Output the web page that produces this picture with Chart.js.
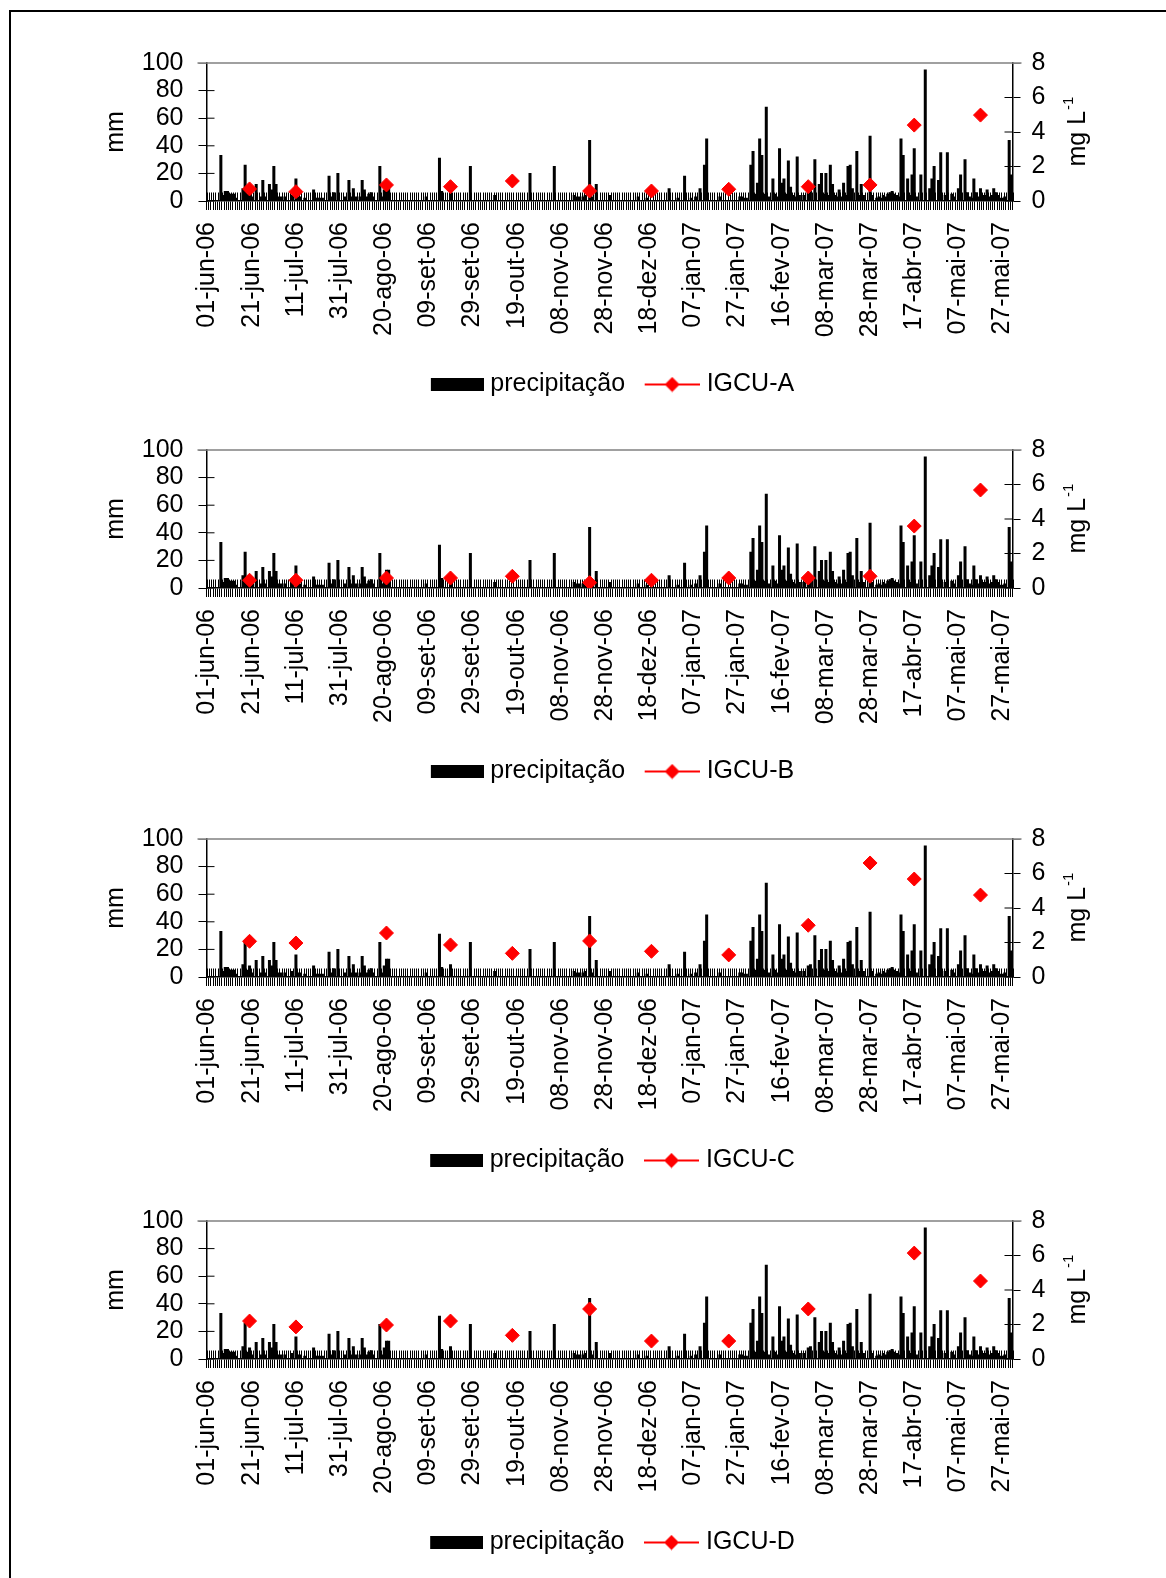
<!DOCTYPE html>
<html>
<head>
<meta charset="utf-8">
<script src="https://cdn.jsdelivr.net/npm/chart.js@4/dist/chart.umd.min.js"></script>
<style>
  html, body { margin: 0; padding: 0; background: #fff; overflow: hidden; }
  body { width: 1166px; height: 1578px; position: relative; }
  .frame { position: absolute; left: 9px; top: 10px; width: 1300px; height: 1700px; border: 2px solid #000; }
  canvas { position: absolute; left: 0; }
</style>
</head>
<body>
<div class="frame"></div>
<canvas id="cA" width="1166" height="400" style="top:13px"></canvas>
<canvas id="cB" width="1166" height="400" style="top:400px"></canvas>
<canvas id="cC" width="1166" height="400" style="top:789px"></canvas>
<canvas id="cD" width="1166" height="400" style="top:1171px"></canvas>
<script>
// daily rainfall (mm), 01-jun-06 .. 31-mai-07, 20 days per row
const precipitation = [
  0, 0, 0, 0, 0, 0, 33, 4, 7, 7, 5, 5, 5, 2, 0, 0, 9, 26, 5, 8,
  3, 0, 12, 0, 3, 15, 3, 0, 12, 8, 25, 12, 3, 3, 0, 3, 0, 0, 4, 0,
  16, 3, 3, 0, 2, 0, 0, 0, 8, 2, 2, 2, 2, 0, 0, 18, 3, 6, 0, 20,
  0, 0, 3, 0, 15, 3, 9, 3, 0, 3, 15, 8, 3, 5, 6, 3, 0, 0, 25, 3,
  8, 13, 13, 0, 0, 0, 0, 0, 0, 0, 0, 0, 0, 0, 0, 0, 0, 0, 0, 3,
  0, 0, 0, 0, 0, 31, 7, 0, 0, 0, 9, 0, 0, 0, 0, 0, 0, 0, 0, 25,
  0, 0, 0, 0, 0, 0, 0, 0, 0, 0, 4, 0, 0, 0, 0, 0, 0, 0, 0, 0,
  0, 0, 0, 0, 0, 0, 20, 0, 0, 0, 0, 0, 0, 0, 0, 0, 0, 25, 0, 0,
  0, 0, 0, 0, 0, 0, 4, 3, 3, 0, 3, 4, 0, 44, 3, 0, 12, 0, 0, 0,
  0, 0, 4, 0, 0, 0, 0, 0, 0, 0, 0, 0, 0, 0, 0, 3, 0, 0, 0, 2,
  0, 0, 0, 0, 0, 0, 0, 0, 0, 9, 0, 0, 0, 2, 0, 0, 18, 0, 0, 2,
  0, 3, 0, 9, 0, 26, 45, 0, 0, 0, 0, 0, 3, 0, 0, 0, 0, 0, 0, 0,
  0, 3, 3, 2, 2, 0, 26, 36, 5, 13, 45, 33, 5, 68, 3, 0, 16, 5, 3, 38,
  13, 16, 5, 29, 10, 4, 3, 32, 4, 0, 4, 0, 8, 9, 0, 30, 0, 12, 20, 5,
  20, 4, 26, 12, 4, 3, 8, 3, 13, 4, 25, 26, 9, 0, 36, 4, 12, 4, 0, 0,
  47, 4, 0, 2, 3, 2, 4, 3, 5, 6, 7, 5, 4, 3, 45, 33, 0, 16, 4, 19,
  38, 3, 0, 19, 0, 95, 0, 9, 16, 25, 0, 15, 35, 0, 4, 35, 0, 5, 3, 0,
  9, 19, 0, 30, 6, 3, 2, 16, 6, 3, 9, 4, 4, 8, 3, 4, 9, 6, 4, 2,
  2, 3, 0, 44, 19
];

// x-axis labels, one every 20 days
const xTickLabels = ['01-jun-06', '21-jun-06', '11-jul-06', '31-jul-06', '20-ago-06',
  '09-set-06', '29-set-06', '19-out-06', '08-nov-06', '28-nov-06', '18-dez-06',
  '07-jan-07', '27-jan-07', '16-fev-07', '08-mar-07', '28-mar-07', '17-abr-07',
  '07-mai-07', '27-mai-07'];

// sampling days (index from 01-jun-06) and IGCU concentrations (mg L-1)
const sampleDays = [19, 40, 81, 110, 138, 173, 201, 236, 272, 300, 320, 350];
const igcuA = [0.70, 0.54, 0.93, 0.83, 1.16, 0.58, 0.58, 0.68, 0.83, 0.93, 4.40, 4.98];
const igcuB = [0.45, 0.45, 0.58, 0.58, 0.68, 0.31, 0.45, 0.58, 0.58, 0.68, 3.59, 5.68];
const igcuC = [2.07, 1.97, 2.55, 1.86, 1.37, 2.09, 1.49, 1.28, 3.00, 6.61, 5.68, 4.75];
const igcuD = [2.20, 1.86, 1.97, 2.20, 1.37, 2.90, 1.04, 1.04, 2.90, null, 6.14, 4.52];

const days = precipitation.map((_, i) => i);

Chart.defaults.font.family = "'Liberation Sans', Arial, sans-serif";
Chart.defaults.font.size = 25;
Chart.defaults.color = '#000';

function makeIcon(w, h, draw) {
  const c = document.createElement('canvas');
  c.width = w; c.height = h;
  draw(c.getContext('2d'), w, h);
  return c;
}
// legend icons, padded on the left so they sit close to their text
const barIcon = makeIcon(67, 13, (g, w, h) => { g.fillStyle = '#000'; g.fillRect(14, 0, 53, h); });
const lineIcon = makeIcon(66, 16, (g, w, h) => {
  const cx = 11 + 27.5;
  g.strokeStyle = '#f00'; g.lineWidth = 2;
  g.beginPath(); g.moveTo(11, h / 2); g.lineTo(w, h / 2); g.stroke();
  g.fillStyle = '#f00';
  g.beginPath();
  g.moveTo(cx - 7.5, h / 2); g.lineTo(cx, h / 2 - 7.5);
  g.lineTo(cx + 7.5, h / 2); g.lineTo(cx, h / 2 + 7.5);
  g.closePath(); g.fill();
});

// tick marks that cross into the plot, the grey top edge and the right axis title
const axisMarks = {
  id: 'axisMarks',
  beforeDatasetsDraw(chart) {
    const { ctx, chartArea: a, scales: { x, y, y1 } } = chart;
    ctx.save();
    ctx.strokeStyle = '#808080';
    ctx.lineWidth = 1.5;
    ctx.beginPath();
    ctx.moveTo(a.left - 9, a.top); ctx.lineTo(a.right + 9, a.top);
    ctx.stroke();
    ctx.strokeStyle = '#000';
    ctx.lineWidth = 1;
    ctx.beginPath();
    for (let i = 0; i <= days.length; i++) {
      const px = Math.round(x.getPixelForValue(i - 0.5)) + 0.5;
      ctx.moveTo(px, a.bottom); ctx.lineTo(px, a.bottom - 8.5);
    }
    y.ticks.forEach(t => {
      const py = y.getPixelForValue(t.value);
      if (t.value < 100) { ctx.moveTo(a.left, py); ctx.lineTo(a.left + 8, py); }
    });
    y1.ticks.forEach(t => {
      const py = y1.getPixelForValue(t.value);
      if (t.value < 8) { ctx.moveTo(a.right - 8, py); ctx.lineTo(a.right, py); }
    });
    ctx.stroke();
    ctx.restore();
  },
  afterDraw(chart) {
    const { ctx, chartArea: a } = chart;
    ctx.save();
    ctx.translate(a.right + 66, (a.top + a.bottom) / 2);
    ctx.rotate(-Math.PI / 2);
    ctx.fillStyle = '#000';
    ctx.textBaseline = 'middle';
    ctx.font = "25px 'Liberation Sans', Arial, sans-serif";
    const w1 = ctx.measureText('mg L').width;
    ctx.font = "15px 'Liberation Sans', Arial, sans-serif";
    const w2 = ctx.measureText('-1').width;
    const x0 = -(w1 + w2) / 2;
    ctx.font = "25px 'Liberation Sans', Arial, sans-serif";
    ctx.fillText('mg L', x0, 0);
    ctx.font = "15px 'Liberation Sans', Arial, sans-serif";
    ctx.fillText('-1', x0 + w1 + 1, -10);
    ctx.restore();
  }
};

function makeChart(id, name, values) {
  const series = days.map(d => {
    const k = sampleDays.indexOf(d);
    return k < 0 ? null : values[k];
  });
  return new Chart(document.getElementById(id), {
    type: 'bar',
    data: {
      labels: days,
      datasets: [{
        label: 'precipitação',
        data: precipitation,
        backgroundColor: '#000',
        borderWidth: 0,
        barPercentage: 1,
        categoryPercentage: 1,
        inflateAmount: 0.4,
        yAxisID: 'y',
        order: 1
      }, {
        type: 'line',
        label: name,
        data: series,
        showLine: false,
        pointStyle: 'rectRot',
        pointRadius: 7,
        pointBorderWidth: 1,
        backgroundColor: '#f00',
        borderColor: '#f00',
        yAxisID: 'y1',
        order: 0
      }]
    },
    options: {
      responsive: false,
      animation: false,
      devicePixelRatio: 1,
      layout: { padding: { top: 50, left: 101, right: 50, bottom: 6 } },
      plugins: {
        tooltip: { enabled: false },
        legend: {
          position: 'bottom',
          labels: {
            usePointStyle: true,
            pointStyleWidth: 55,
            padding: 14,
            color: '#000',
            font: { size: 25 },
            generateLabels: () => [
              { text: 'precipitação', pointStyle: barIcon, fillStyle: '#000', strokeStyle: '#000', lineWidth: 0, hidden: false, datasetIndex: 0 },
              { text: name, pointStyle: lineIcon, fillStyle: '#f00', strokeStyle: '#f00', lineWidth: 0, hidden: false, datasetIndex: 1 }
            ]
          }
        }
      },
      scales: {
        x: {
          offset: true,
          grid: { display: true, drawOnChartArea: false, drawTicks: true, tickLength: 9, color: '#000', lineWidth: 1, offset: true },
          border: { display: true, color: '#000', width: 1.5 },
          ticks: {
            autoSkip: false,
            minRotation: 90,
            maxRotation: 90,
            padding: 12,
            font: { size: 25 },
            callback: (v, i) => (i % 20 === 0 ? xTickLabels[i / 20] : '')
          },
          afterFit: s => { s.height = 157; }
        },
        y: {
          position: 'left',
          min: 0, max: 100,
          ticks: { stepSize: 20, autoSkip: false, padding: 15, font: { size: 25 } },
          grid: { drawOnChartArea: false, drawTicks: true, tickLength: 8, color: ctx => (ctx.tick && ctx.tick.value === 100 ? '#808080' : '#000') },
          border: { display: true, color: '#000', width: 1.5 },
          title: { display: true, text: 'mm', font: { size: 25 }, padding: 0 },
          afterFit: s => { s.width = 105.5; }
        },
        y1: {
          position: 'right',
          min: 0, max: 8,
          ticks: { stepSize: 2, autoSkip: false, padding: 11, font: { size: 25 } },
          grid: { drawOnChartArea: false, drawTicks: true, tickLength: 8, color: ctx => (ctx.tick && ctx.tick.value === 8 ? '#808080' : '#000') },
          border: { display: true, color: '#000', width: 1.5 },
          afterFit: s => { s.width = 103.5; }
        }
      }
    },
    plugins: [axisMarks]
  });
}

makeChart('cA', 'IGCU-A', igcuA);
makeChart('cB', 'IGCU-B', igcuB);
makeChart('cC', 'IGCU-C', igcuC);
makeChart('cD', 'IGCU-D', igcuD);
</script>
</body>
</html>
